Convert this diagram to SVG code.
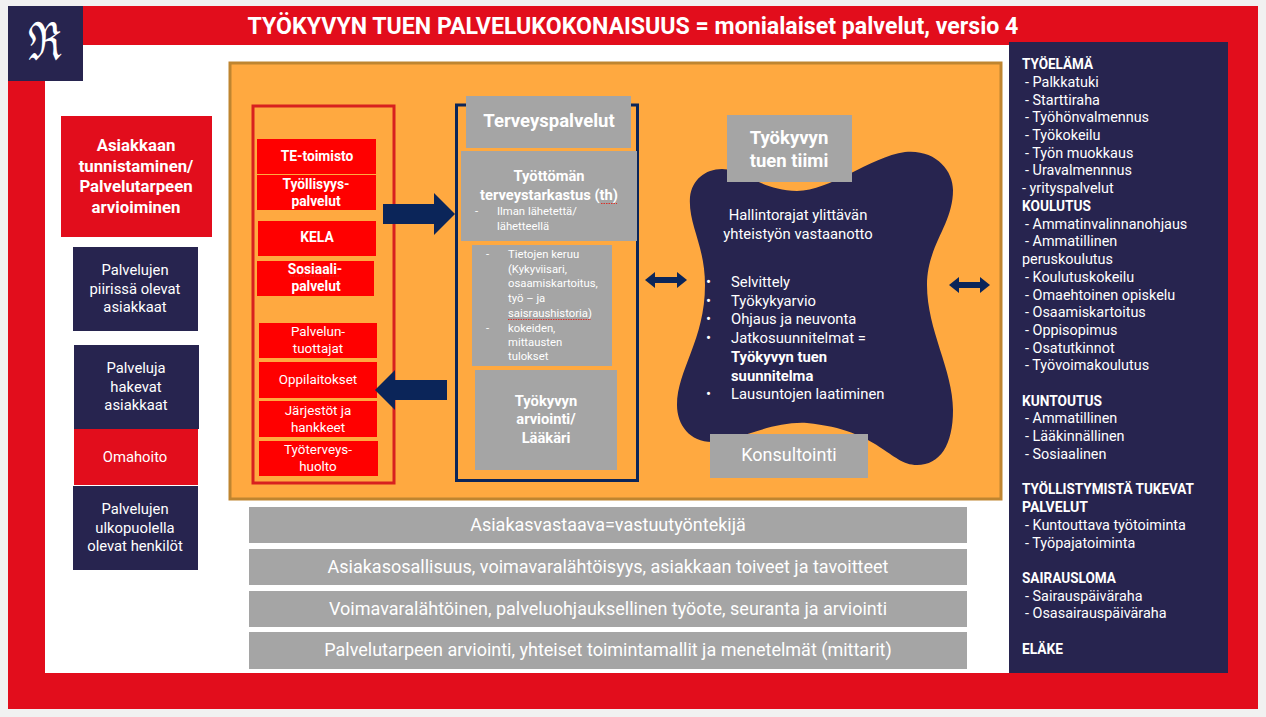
<svg xmlns="http://www.w3.org/2000/svg" width="1266" height="717" viewBox="0 0 1266 717">
<style>
text{font-family:Roboto,"Open Sans","Liberation Sans",sans-serif;fill:#fff}
.c{text-anchor:middle}
.b{font-weight:700}
.navy{fill:#27244f}
.red{fill:#e20d1c}
.rb{fill:#ff0000}
.grey{fill:#a5a5a5}
.arrow{fill:#0b2559}
.s11{font-size:11.300px}
.s13{font-size:13.400px}
.sb13{font-size:13.800px}
.s14{font-size:14.400px}
.sp{font-size:14.200px}
.sb14{font-size:14.700px}
.s15{font-size:14.800px}
.bl{font-size:15px}
.sb15{font-size:16.800px}
.sb16{font-size:18.500px}
.s17{font-size:18px}
.sq{fill:none;stroke:#d9302a;stroke-width:1;stroke-dasharray:1.5 1}
</style>
<rect width="1266" height="717" fill="#f1f1f1"/>
<g id="frame">
<rect class="red" x="8" y="6" width="1250" height="703"/>
<rect x="45" y="45" width="970" height="628" fill="#fff"/>
</g>
<g id="logo">
<rect class="navy" x="8" y="6" width="75" height="75"/>
<text class="c" transform="translate(45 60) scale(.9 1.2)" style="font-family:'DejaVu Serif',serif;font-size:44px">ℜ</text>
</g>
<g id="title"><text class="c b" x="633" y="34" font-size="23.150">TYÖKYVYN TUEN PALVELUKOKONAISUUS = monialaiset palvelut, versio 4</text></g>
<g id="panel-right">
<rect class="navy" x="1009" y="42" width="219" height="631"/>
<g class="s14">
<text class="b sp" x="1022" y="69" textLength="71" lengthAdjust="spacingAndGlyphs">TYÖELÄMÄ</text>
<text x="1025" y="87">- Palkkatuki</text>
<text x="1025" y="105">- Starttiraha</text>
<text x="1025" y="122">- Työhönvalmennus</text>
<text x="1025" y="140">- Työkokeilu</text>
<text x="1025" y="158">- Työn muokkaus</text>
<text x="1025" y="175">- Uravalmennnus</text>
<text x="1022" y="193">- yrityspalvelut</text>
<text class="b sp" x="1022" y="211" textLength="69" lengthAdjust="spacingAndGlyphs">KOULUTUS</text>
<text x="1025" y="229">- Ammatinvalinnanohjaus</text>
<text x="1025" y="246">- Ammatillinen</text>
<text x="1022" y="264">peruskoulutus</text>
<text x="1025" y="282">- Koulutuskokeilu</text>
<text x="1025" y="300">- Omaehtoinen opiskelu</text>
<text x="1025" y="317">- Osaamiskartoitus</text>
<text x="1025" y="335">- Oppisopimus</text>
<text x="1025" y="353">- Osatutkinnot</text>
<text x="1025" y="370">- Työvoimakoulutus</text>
<text class="b sp" x="1022" y="406" textLength="80" lengthAdjust="spacingAndGlyphs">KUNTOUTUS</text>
<text x="1025" y="423">- Ammatillinen</text>
<text x="1025" y="441">- Lääkinnällinen</text>
<text x="1025" y="459">- Sosiaalinen</text>
<text class="b sp" x="1022" y="494" textLength="172" lengthAdjust="spacingAndGlyphs">TYÖLLISTYMISTÄ TUKEVAT</text>
<text class="b sp" x="1022" y="512" textLength="66" lengthAdjust="spacingAndGlyphs">PALVELUT</text>
<text x="1025" y="530">- Kuntouttava työtoiminta</text>
<text x="1025" y="548">- Työpajatoiminta</text>
<text class="b sp" x="1022" y="583" textLength="94" lengthAdjust="spacingAndGlyphs">SAIRAUSLOMA</text>
<text x="1025" y="601">- Sairauspäiväraha</text>
<text x="1025" y="618">- Osasairauspäiväraha</text>
<text class="b sp" x="1022" y="654" textLength="41" lengthAdjust="spacingAndGlyphs">ELÄKE</text>
</g>
</g>
<g id="left-asiakkaan">
<rect class="red" x="61" y="116" width="151" height="121"/>
<g class="c b sb15"><text x="136" y="151">Asiakkaan</text><text x="136" y="172">tunnistaminen/</text><text x="136" y="192">Palvelutarpeen</text><text x="136" y="213">arvioiminen</text></g>
</g>
<g id="left-piirissa">
<rect class="navy" x="73" y="247" width="125" height="84"/>
<g class="c s15"><text x="135" y="275">Palvelujen</text><text x="135" y="294">piirissä olevat</text><text x="135" y="312">asiakkaat</text></g>
</g>
<g id="left-hakevat">
<rect class="navy" x="74" y="345" width="125" height="84"/>
<g class="c s15"><text x="136" y="373">Palveluja</text><text x="136" y="392">hakevat</text><text x="136" y="410">asiakkaat</text></g>
</g>
<g id="left-omahoito">
<rect class="red" x="74" y="429" width="124" height="56"/>
<text class="c s15" x="135" y="462">Omahoito</text>
</g>
<g id="left-ulkopuolella">
<rect class="navy" x="73" y="486" width="125" height="84"/>
<g class="c s15"><text x="135" y="514">Palvelujen</text><text x="135" y="533">ulkopuolella</text><text x="135" y="551">olevat henkilöt</text></g>
</g>
<g id="panel-orange"><rect x="230" y="63" width="771" height="436" fill="#ffa940" stroke="#bf8530" stroke-width="3"/></g>
<g id="group-red"><rect x="253" y="106" width="141" height="377" fill="none" stroke="#d8201f" stroke-width="3"/></g>
<g id="te-toimisto"><rect class="rb" x="257" y="139" width="119" height="35"/><text class="c b sb13" x="317" y="161">TE-toimisto</text></g>
<g id="tyollisyys"><rect class="rb" x="257" y="175" width="119" height="35"/><text class="c b sb13" x="316" y="189">Työllisyys-</text><text class="c b sb13" x="316" y="206">palvelut</text></g>
<g id="kela"><rect class="rb" x="258" y="221" width="118" height="35"/><text class="c b sb13" x="317" y="242">KELA</text></g>
<g id="sosiaali"><rect class="rb" x="257" y="261" width="117" height="35"/><text class="c b sb13" x="315" y="274">Sosiaali-</text><text class="c b sb13" x="316" y="291">palvelut</text><path class="sq" d="M290 276H339"/></g>
<g id="tuottajat"><rect class="rb" x="259" y="323" width="118" height="35"/><text class="c s13" x="318" y="336">Palvelun-</text><text class="c s13" x="318" y="353">tuottajat</text></g>
<g id="oppilaitokset"><rect class="rb" x="259" y="362" width="118" height="36"/><text class="c s13" x="318" y="384">Oppilaitokset</text></g>
<g id="jarjestot"><rect class="rb" x="259" y="401" width="118" height="36"/><text class="c s13" x="318" y="415">Järjestöt ja</text><text class="c s13" x="318" y="432">hankkeet</text></g>
<g id="tyoterveys"><rect class="rb" x="259" y="441" width="119" height="35"/><text class="c s13" x="318" y="454">Työterveys-</text><text class="c s13" x="318" y="471">huolto</text></g>
<g id="group-navy"><rect x="456.500" y="105" width="181" height="375.500" fill="none" stroke="#0b2559" stroke-width="3"/></g>
<g id="terveyspalvelut"><rect class="grey" x="466" y="96" width="165" height="52"/><text class="c b sb16" x="549" y="127">Terveyspalvelut</text></g>
<g id="tarkastus"><rect class="grey" x="461" y="151" width="176" height="90"/>
<text class="c b sb14" x="549" y="181">Työttömän</text><text class="c b sb14" x="549" y="200">terveystarkastus (th)</text><path class="sq" d="M601 203.500H617"/>
<text class="s11" x="475" y="215">-</text><text class="s11" x="497" y="215">Ilman lähetettä/</text><text class="s11" x="497" y="230">lähetteellä</text></g>
<g id="tietojen"><rect class="grey" x="472" y="245" width="140" height="121"/>
<g class="s11"><text x="486" y="258">-</text><text x="508" y="258">Tietojen keruu</text><text x="508" y="273">(Kykyviisari,</text><text x="508" y="287">osaamiskartoitus,</text><text x="508" y="302">työ – ja</text><text x="508" y="317">saisraushistoria)</text><text x="486" y="332">-</text><text x="508" y="332">kokeiden,</text><text x="508" y="346">mittausten</text><text x="508" y="360">tulokset</text></g><path class="sq" d="M508 319.500H591"/></g>
<g id="arviointi"><rect class="grey" x="475" y="370" width="142" height="100"/><g class="c b sb14"><text x="546" y="406">Työkyvyn</text><text x="546" y="424">arviointi/</text><text x="546" y="443">Lääkäri</text></g></g>
<g id="tiimi-blob"><path class="navy" d="M690 197C692 180 705 169 722 169C745 170 760 190 797 191C830 191 870 157 905 152C935 149 953 170 953 190C953 225 927 245 927 285C927 330 953 370 953 410C953 445 940 465 917 465C890 465 880 430 807 423C770 421 735 442 712 442C690 442 677 425 677 405C677 370 705 340 705 285C705 245 688 225 690 197Z"/>
<g class="s15"><text class="c" x="798" y="220">Hallintorajat ylittävän</text><text class="c" x="798" y="239">yhteistyön vastaanotto</text>
<text class="bl" x="706" y="287">•</text><text x="731" y="287">Selvittely</text><text class="bl" x="706" y="306">•</text><text x="731" y="306">Työkykyarvio</text><text class="bl" x="706" y="324">•</text><text x="731" y="324">Ohjaus ja neuvonta</text><text class="bl" x="706" y="343">•</text><text x="731" y="343">Jatkosuunnitelmat =</text><text class="b" x="731" y="362">Työkyvyn tuen</text><text class="b" x="731" y="381">suunnitelma</text><text class="bl" x="706" y="399">•</text><text x="731" y="399">Lausuntojen laatiminen</text></g></g>
<g id="tiimi"><rect class="grey" x="727" y="115" width="125" height="67"/><g class="c b sb16"><text x="789" y="144">Työkyvyn</text><text x="789" y="167">tuen tiimi</text></g></g>
<g id="konsultointi"><rect class="grey" x="710" y="434" width="158" height="44"/><text class="c s17" x="789" y="461">Konsultointi</text></g>
<g id="bar-1"><rect class="grey" x="249" y="507" width="718" height="36"/><text class="c s17" x="608" y="531">Asiakasvastaava=vastuutyöntekijä</text></g>
<g id="bar-2"><rect class="grey" x="249" y="549" width="718" height="36"/><text class="c s17" x="608" y="573">Asiakasosallisuus, voimavaralähtöisyys, asiakkaan toiveet ja tavoitteet</text></g>
<g id="bar-3"><rect class="grey" x="249" y="591" width="718" height="36"/><text class="c s17" x="608" y="615">Voimavaralähtöinen, palveluohjauksellinen työote, seuranta ja arviointi</text></g>
<g id="bar-4"><rect class="grey" x="249" y="632" width="718" height="37"/><text class="c s17" x="608" y="656">Palvelutarpeen arviointi, yhteiset toimintamallit ja menetelmät (mittarit)</text></g>
<g id="connectors">
<path class="arrow" d="M383 204H434V193L455 214L434 235V224H383Z"/>
<path class="arrow" d="M447 380H395V370L375 390L395 410V400H447Z"/>
<path class="arrow" d="M645 280L655 272V277H677V272L687 280L677 288V283H655V288Z"/>
<path class="arrow" d="M949 285L959 277V282H980V277L990 285L980 293V288H959V293Z"/>
</g>
</svg>
